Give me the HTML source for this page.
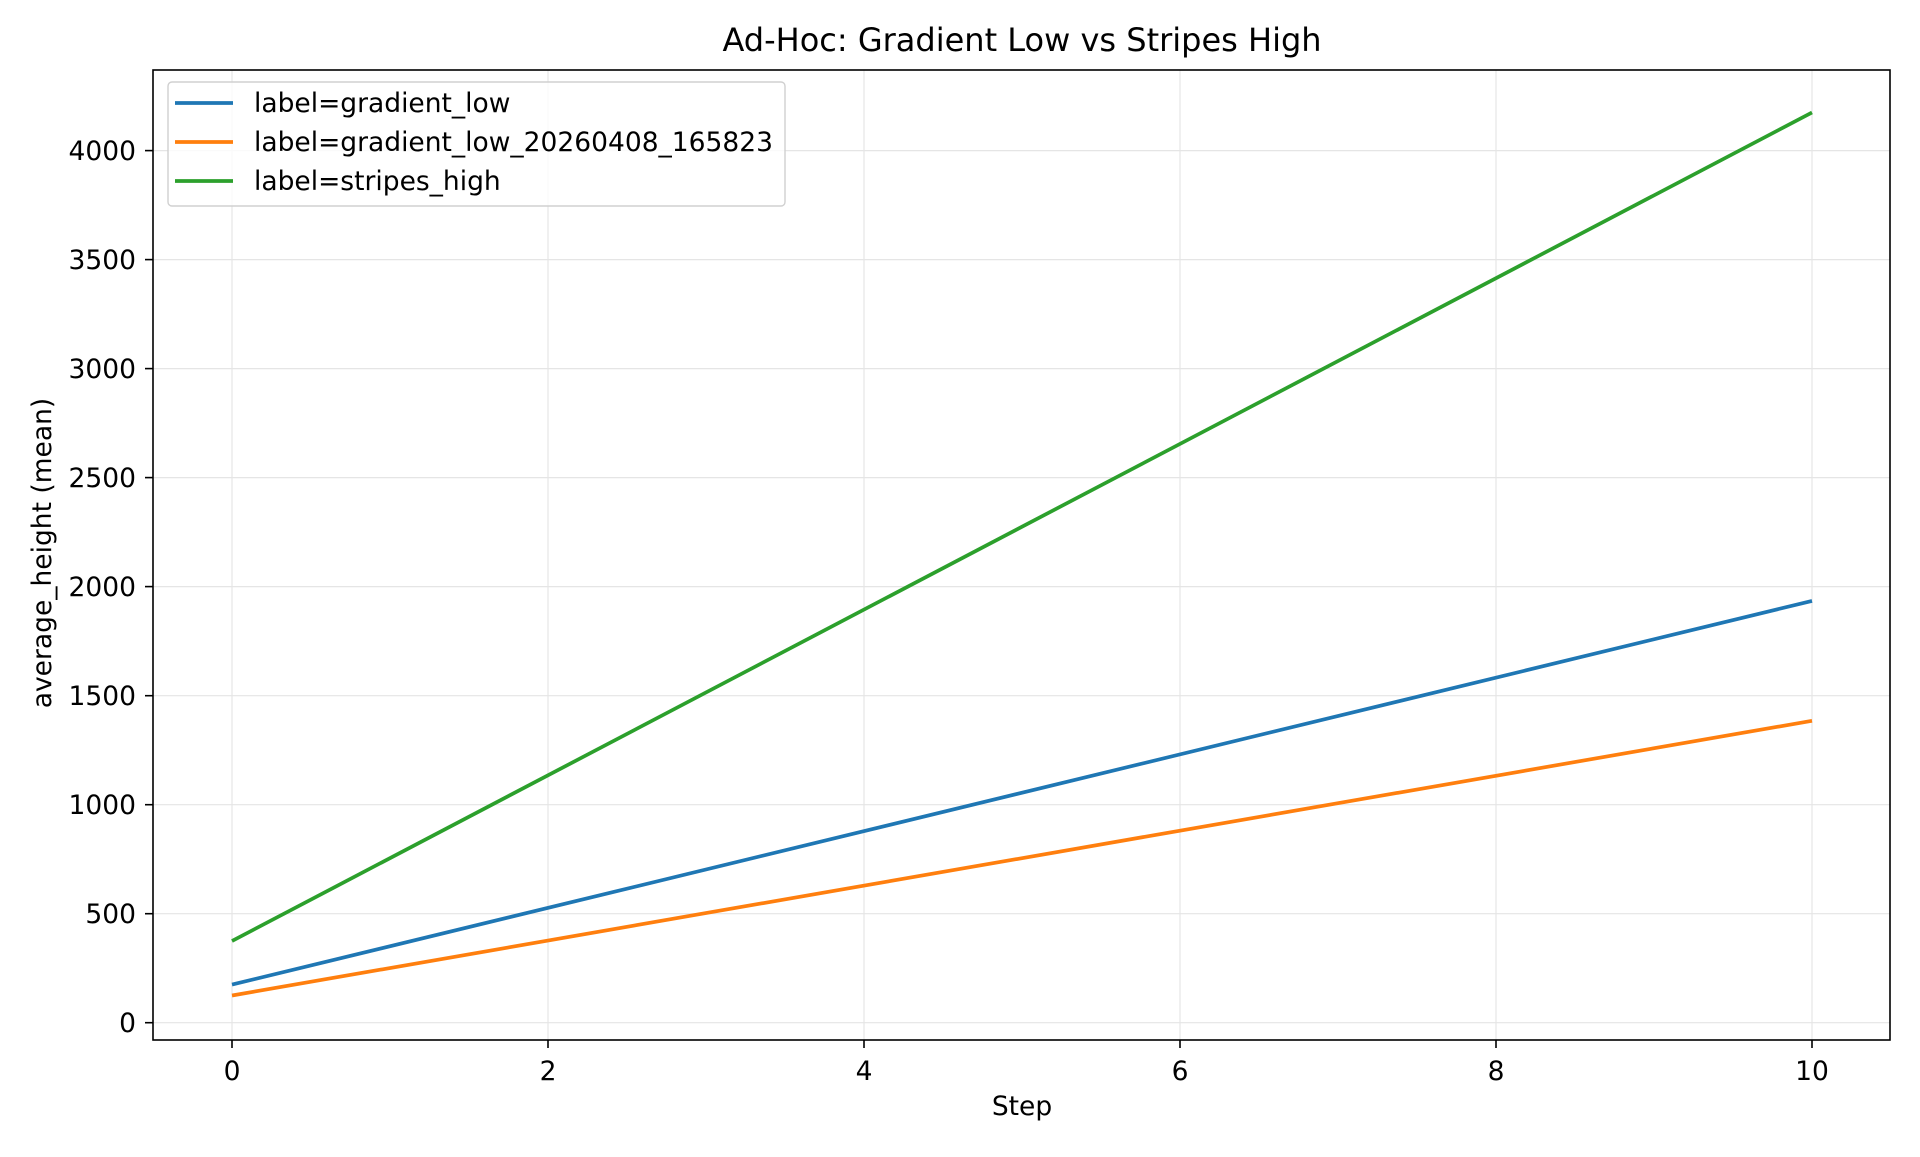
<!DOCTYPE html>
<html><head><style>body{margin:0;background:#fff}</style></head><body>
<svg width="1920" height="1152" xmlns="http://www.w3.org/2000/svg" font-family="DejaVu Sans, Liberation Sans, sans-serif">
<rect width="1920" height="1152" fill="#fff"/>
<g stroke="#e5e5e5" stroke-width="1.2">
<line x1="232" y1="70" x2="232" y2="1040"/><line x1="548" y1="70" x2="548" y2="1040"/><line x1="864" y1="70" x2="864" y2="1040"/><line x1="1180" y1="70" x2="1180" y2="1040"/><line x1="1496" y1="70" x2="1496" y2="1040"/><line x1="1812" y1="70" x2="1812" y2="1040"/>
<line x1="153" y1="1022.7" x2="1890" y2="1022.7"/><line x1="153" y1="913.7" x2="1890" y2="913.7"/><line x1="153" y1="804.7" x2="1890" y2="804.7"/><line x1="153" y1="695.7" x2="1890" y2="695.7"/><line x1="153" y1="586.6" x2="1890" y2="586.6"/><line x1="153" y1="477.6" x2="1890" y2="477.6"/><line x1="153" y1="368.6" x2="1890" y2="368.6"/><line x1="153" y1="259.6" x2="1890" y2="259.6"/><line x1="153" y1="150.6" x2="1890" y2="150.6"/>
</g>
<g fill="none" stroke-width="3.7">
<line x1="232" y1="984.6" x2="1812" y2="600.9" stroke="#1f77b4"/>
<line x1="232" y1="995.5" x2="1812" y2="720.8" stroke="#ff7f0e"/>
<line x1="232" y1="941" x2="1812" y2="112.5" stroke="#2ca02c"/>
</g>
<rect x="153" y="70" width="1737" height="970" fill="none" stroke="#000" stroke-width="1.6"/>
<g stroke="#000" stroke-width="1.6">
<line x1="232" y1="1040" x2="232" y2="1048"/><line x1="548" y1="1040" x2="548" y2="1048"/><line x1="864" y1="1040" x2="864" y2="1048"/><line x1="1180" y1="1040" x2="1180" y2="1048"/><line x1="1496" y1="1040" x2="1496" y2="1048"/><line x1="1812" y1="1040" x2="1812" y2="1048"/>
<line x1="145" y1="1022.7" x2="153" y2="1022.7"/><line x1="145" y1="913.7" x2="153" y2="913.7"/><line x1="145" y1="804.7" x2="153" y2="804.7"/><line x1="145" y1="695.7" x2="153" y2="695.7"/><line x1="145" y1="586.6" x2="153" y2="586.6"/><line x1="145" y1="477.6" x2="153" y2="477.6"/><line x1="145" y1="368.6" x2="153" y2="368.6"/><line x1="145" y1="259.6" x2="153" y2="259.6"/><line x1="145" y1="150.6" x2="153" y2="150.6"/>
</g>
<g font-size="26.5" text-anchor="middle" fill="#000">
<text x="232" y="1080">0</text><text x="548" y="1080">2</text><text x="864" y="1080">4</text><text x="1180" y="1080">6</text><text x="1496" y="1080">8</text><text x="1812" y="1080">10</text>
</g>
<g font-size="26.5" text-anchor="end" fill="#000">
<text x="136" y="1032">0</text><text x="136" y="923">500</text><text x="136" y="814">1000</text><text x="136" y="705">1500</text><text x="136" y="596">2000</text><text x="136" y="487">2500</text><text x="136" y="378">3000</text><text x="136" y="269">3500</text><text x="136" y="160">4000</text>
</g>
<text x="1022" y="1115" font-size="26.5" text-anchor="middle">Step</text>
<text transform="translate(51,553) rotate(-90)" font-size="26.5" text-anchor="middle">average_height (mean)</text>
<text x="1022" y="51" font-size="32" text-anchor="middle">Ad-Hoc: Gradient Low vs Stripes High</text>
<rect x="168" y="82" width="617" height="124" rx="4" fill="#fff" fill-opacity="0.8" stroke="#d0d0d0" stroke-width="1.4"/>
<line x1="175" y1="103" x2="233" y2="103" stroke="#1f77b4" stroke-width="3.7"/>
<line x1="175" y1="142" x2="233" y2="142" stroke="#ff7f0e" stroke-width="3.7"/>
<line x1="175" y1="181" x2="233" y2="181" stroke="#2ca02c" stroke-width="3.7"/>
<g font-size="26.5" fill="#000">
<text x="254" y="112">label=gradient_low</text>
<text x="254" y="151">label=gradient_low_20260408_165823</text>
<text x="254" y="190">label=stripes_high</text>
</g>
</svg>
</body></html>
